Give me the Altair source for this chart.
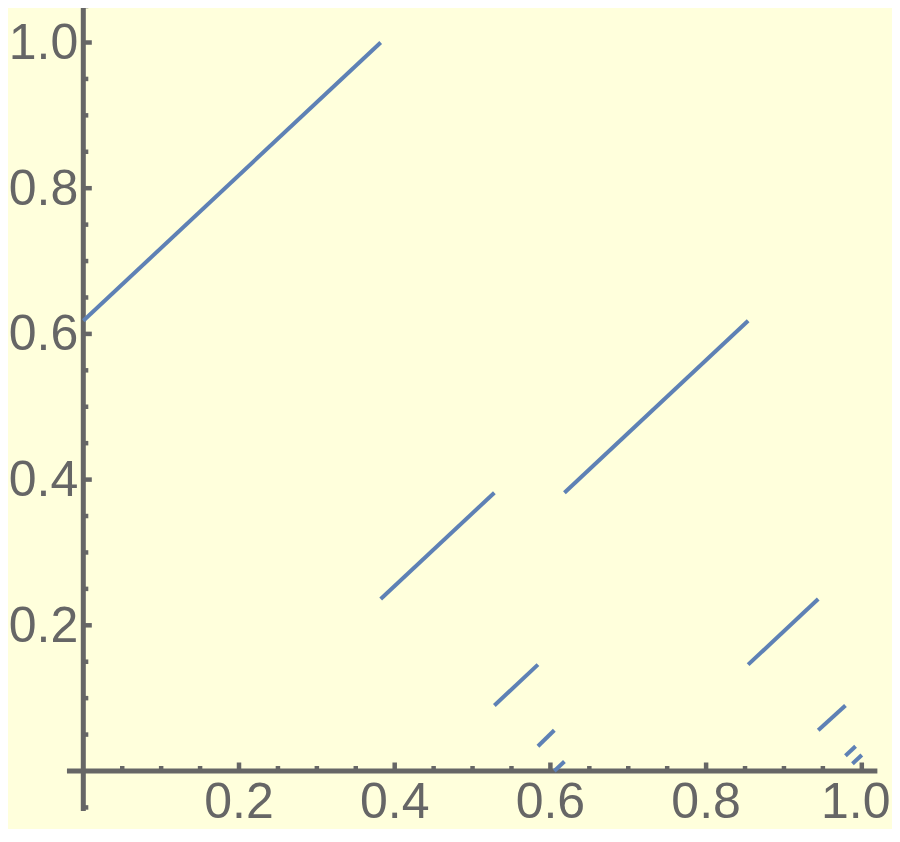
import altair as alt
import pandas as pd

# ---- data ----
# line segments (start x, start y, end x, end y)
seg_x0 = [0.000, 0.382, 0.618, 0.528, 0.584, 0.605, 0.854, 0.944, 0.979, 0.988]
seg_y0 = [0.618, 0.236, 0.382, 0.090, 0.034, 0.000, 0.146, 0.056, 0.021, 0.010]
seg_x1 = [0.382, 0.528, 0.854, 0.584, 0.605, 0.618, 0.944, 0.979, 0.992, 1.000]
seg_y1 = [1.000, 0.382, 0.618, 0.146, 0.056, 0.013, 0.236, 0.090, 0.034, 0.022]

x_major = [0.2, 0.4, 0.6, 0.8, 1.0]
x_labels = ["0.2", "0.4", "0.6", "0.8", "1.0"]
y_major = [0.2, 0.4, 0.6, 0.8, 1.0]
y_labels = ["0.2", "0.4", "0.6", "0.8", "1.0"]
x_minor = [0.05, 0.10, 0.15, 0.25, 0.30, 0.35, 0.45, 0.50, 0.55,
           0.65, 0.70, 0.75, 0.85, 0.90, 0.95]
y_minor = [-0.05, 0.05, 0.10, 0.15, 0.25, 0.30, 0.35, 0.45, 0.50, 0.55,
           0.65, 0.70, 0.75, 0.85, 0.90, 0.95, 1.05]
x_axis_span = [-0.021, 1.020]
y_axis_span = [-0.055, 1.055]

# ---- layout ----
W, H = 884, 821
X_DOMAIN = [-0.09673, 1.03879]
Y_DOMAIN = [-0.07962, 1.04736]
BG = "#FFFFDC"
AX = "#666666"
LINE = "#5E81B5"
FONT = "Liberation Sans, Arial, Helvetica, sans-serif"
FS = 50

xs = alt.Scale(domain=X_DOMAIN, nice=False, zero=False)
ys = alt.Scale(domain=Y_DOMAIN, nice=False, zero=False)

segs = pd.DataFrame({"x": seg_x0, "y": seg_y0, "x2": seg_x1, "y2": seg_y1})
lines = alt.Chart(segs).mark_rule(color=LINE, strokeWidth=4, strokeCap="butt").encode(
    x=alt.X("x:Q", scale=xs, axis=None),
    y=alt.Y("y:Q", scale=ys, axis=None),
    x2="x2:Q",
    y2="y2:Q",
)

xaxis_df = pd.DataFrame({"x": [x_axis_span[0]], "x2": [x_axis_span[1]], "y": [0.0]})
xaxis = alt.Chart(xaxis_df).mark_rule(color=AX, strokeWidth=5, strokeCap="butt").encode(
    x=alt.X("x:Q", scale=xs, axis=None), x2="x2:Q",
    y=alt.Y("y:Q", scale=ys, axis=None),
)
yaxis_df = pd.DataFrame({"y": [y_axis_span[0]], "y2": [y_axis_span[1]], "x": [0.0]})
yaxis = alt.Chart(yaxis_df).mark_rule(color=AX, strokeWidth=5, strokeCap="butt").encode(
    y=alt.Y("y:Q", scale=ys, axis=None), y2="y2:Q",
    x=alt.X("x:Q", scale=xs, axis=None),
)

def xticks(vals, length):
    df = pd.DataFrame({"x": vals, "y": [0.0] * len(vals)})
    return alt.Chart(df).mark_rule(color=AX, strokeWidth=4.5, strokeCap="butt",
                                   y2Offset=-length).encode(
        x=alt.X("x:Q", scale=xs, axis=None),
        y=alt.Y("y:Q", scale=ys, axis=None),
        y2="y:Q",
    )

def yticks(vals, length):
    df = pd.DataFrame({"y": vals, "x": [0.0] * len(vals)})
    return alt.Chart(df).mark_rule(color=AX, strokeWidth=4.5, strokeCap="butt",
                                   x2Offset=length).encode(
        y=alt.Y("y:Q", scale=ys, axis=None),
        x=alt.X("x:Q", scale=xs, axis=None),
        x2="x:Q",
    )

def xlabels(vals, texts, dx):
    df = pd.DataFrame({"x": vals, "y": [0.0] * len(vals), "t": texts})
    return alt.Chart(df).mark_text(font=FONT, fontSize=FS, color=AX, align="center",
                                   baseline="alphabetic", dy=47, dx=dx).encode(
        x=alt.X("x:Q", scale=xs, axis=None),
        y=alt.Y("y:Q", scale=ys, axis=None),
        text="t:N",
    )

ylab_df = pd.DataFrame({"y": y_major, "x": [0.0] * 5, "t": y_labels})
ylab = alt.Chart(ylab_df).mark_text(font=FONT, fontSize=FS, color=AX, align="right",
                                    baseline="alphabetic", dx=-5, dy=16.4).encode(
    x=alt.X("x:Q", scale=xs, axis=None),
    y=alt.Y("y:Q", scale=ys, axis=None),
    text="t:N",
)

chart = alt.layer(
    xaxis, yaxis,
    xticks(x_minor, 5), xticks(x_major, 8.5),
    yticks(y_minor, 5), yticks(y_major, 8.5),
    lines,
    xlabels(x_major[:-1], x_labels[:-1], 0),
    xlabels(x_major[-1:], x_labels[-1:], -6),
    ylab,
).properties(
    width=W, height=H, background=BG, padding=0,
    autosize=alt.AutoSizeParams(type="none"),
).configure_view(stroke=None)

chart.save("out.html", embed_options={"renderer": "svg", "actions": False})
